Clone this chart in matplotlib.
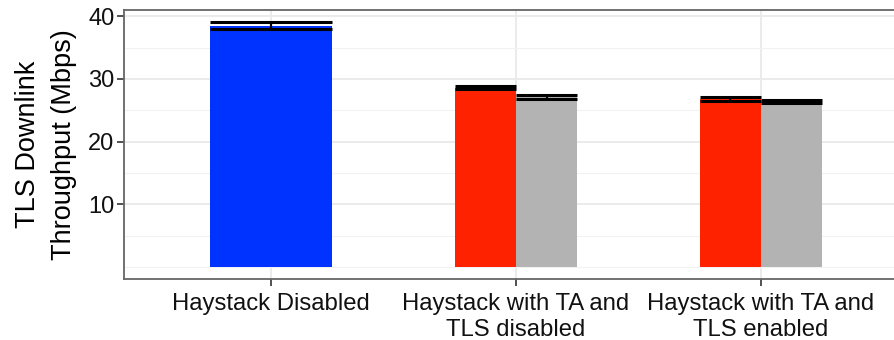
import matplotlib
matplotlib.use("Agg")
import matplotlib.pyplot as plt
import numpy as np

plt.rcParams['font.family'] = ['Liberation Sans', 'DejaVu Sans']

categories = ["Haystack Disabled", "Haystack with TA and\nTLS disabled", "Haystack with TA and\nTLS enabled"]
haystack_vals = [38.5, None, None]
haystack_err = [0.55, None, None]
red_vals = [None, 28.6, 26.8]
red_err = [None, 0.25, 0.32]
gray_vals = [None, 27.15, 26.4]
gray_err = [None, 0.35, 0.26]
y_ticks = [10, 20, 30, 40]

col_blue = "#0033FF"
col_red = "#FF2200"
col_gray = "#B3B3B3"

fig = plt.figure(figsize=(8.94, 3.40), dpi=100)
ax = fig.add_axes([124/894, (340-279.3)/340, (908-124)/894, (279.3-10)/340])

x = np.arange(1, len(categories) + 1)
total_w = 0.5

def draw(xpos, val, err, w, color):
    ax.bar(xpos, val, width=w, color=color, zorder=3, linewidth=0)
    ax.errorbar(xpos, val, yerr=err, fmt='none', ecolor='black', elinewidth=1.6,
                capsize=0, zorder=4)
    for yv in (val - err, val + err):
        ax.hlines(yv, xpos - w/2, xpos + w/2, color='black', lw=2.2, zorder=4)

for i in range(len(categories)):
    present = [(v, e, c) for v, e, c in ((haystack_vals[i], haystack_err[i], col_blue),
                                         (red_vals[i], red_err[i], col_red),
                                         (gray_vals[i], gray_err[i], col_gray)) if v is not None]
    n = len(present)
    w = total_w / n
    for j, (v, e, c) in enumerate(present):
        xpos = x[i] - total_w/2 + w*(j + 0.5)
        draw(xpos, v, e, w, c)

all_up = [v + e for vals, errs in ((haystack_vals, haystack_err), (red_vals, red_err), (gray_vals, gray_err))
          for v, e in zip(vals, errs) if v is not None]
ymax = max(all_up)
pad = 0.05 * ymax
ax.set_ylim(-pad, ymax + pad)
ax.set_xlim(0.4, len(categories) + 0.6)

ax.set_yticks(y_ticks)
ax.set_yticks([0, 5, 15, 25, 35], minor=True)
ax.set_xticks(x)
ax.set_xticklabels(categories, fontsize=17.2, color='#111111', linespacing=1.25)
ax.tick_params(axis='y', which='major', labelsize=17, labelcolor='#111111', length=5, width=1.2, color='#333333', pad=2)
ax.tick_params(axis='x', which='major', length=5, width=1.2, color='#333333', pad=5)
ax.tick_params(which='minor', length=0)

ax.grid(True, which='major', color='#EBEBEB', lw=1.4, zorder=0)
ax.grid(True, which='minor', axis='y', color='#F2F2F2', lw=0.8, zorder=0)
ax.set_axisbelow(True)
for s in ax.spines.values():
    s.set_color('#666666')
    s.set_linewidth(1.3)

ax.set_ylabel("TLS Downlink\nThroughput (Mbps)", fontsize=19.5, color='black', linespacing=1.5, labelpad=8)

fig.savefig("out.png", dpi=100)
